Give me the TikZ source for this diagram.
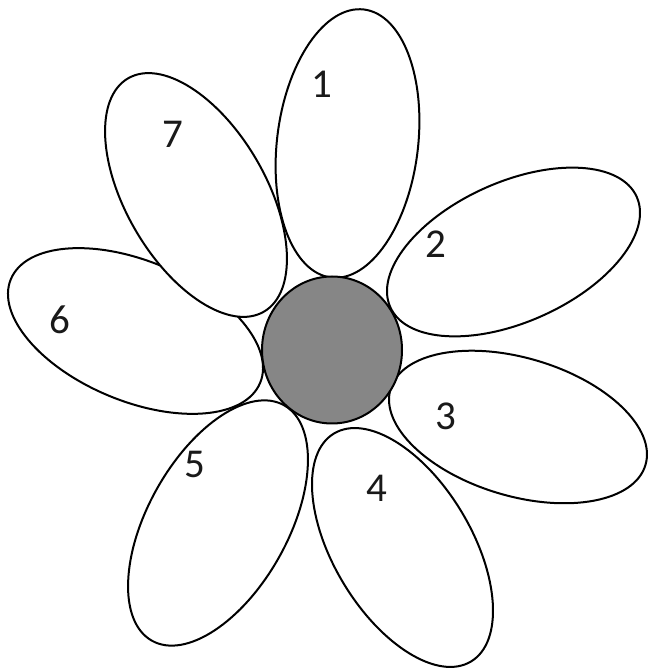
\documentclass[tikz,border=0pt]{standalone}
\usepackage{fontspec}
\setmainfont{Carlito}
\usetikzlibrary{shapes.geometric}
\definecolor{centergray}{RGB}{134,134,134}
\tikzset{
  petal/.style={ellipse, draw=black, line width=2pt, inner sep=0pt},
  petalfill/.style={ellipse, fill=white, inner sep=0pt},
  lbl/.style={font=\fontsize{41}{41}\selectfont, inner sep=0pt, text=black!90}
}
\begin{document}
\begin{tikzpicture}[x=1pt,y=1pt]
\useasboundingbox (0,0) rectangle (650,669);
\fill[white] (0,0) rectangle (650,669);
% petal 6 (lies under petal 7)
\node[petal, minimum width=270pt, minimum height=140pt, rotate=-22.6] (p6) at (135.5,338) {};
% white fill of petal 7 hides petal 6's line
\node[petalfill, minimum width=270pt, minimum height=140pt, rotate=-59.8] (f7) at (196,474) {};
\node[petal, minimum width=270pt, minimum height=140pt, rotate=-59.8] (p7) at (196,474) {};
\node[petal, minimum width=270pt, minimum height=141pt, rotate=83] (p1) at (347.5,525.5) {};
\node[petal, minimum width=270pt, minimum height=140pt, rotate=24.1] (p2) at (513.5,417) {};
\node[petal, minimum width=266pt, minimum height=138pt, rotate=-16.6] (p3) at (518,242) {};
\node[petal, minimum width=266pt, minimum height=138pt, rotate=-59] (p4) at (402.5,121.5) {};
\node[petal, minimum width=270pt, minimum height=140pt, rotate=60.7] (p5) at (218,146) {};
% centre
\node[ellipse, draw=black, fill=centergray, line width=2pt, minimum width=140pt, minimum height=147pt, inner sep=0pt] (c) at (332,319) {};
% labels
\node[lbl] (l1) at (322,585) {1};
\node[lbl] (l2) at (435.5,424.5) {2};
\node[lbl] (l3) at (446,253) {3};
\node[lbl] (l4) at (377,181) {4};
\node[lbl] (l5) at (195,205) {5};
\node[lbl] (l6) at (60,349) {6};
\node[lbl] (l7) at (173,535) {7};
\end{tikzpicture}
\end{document}
